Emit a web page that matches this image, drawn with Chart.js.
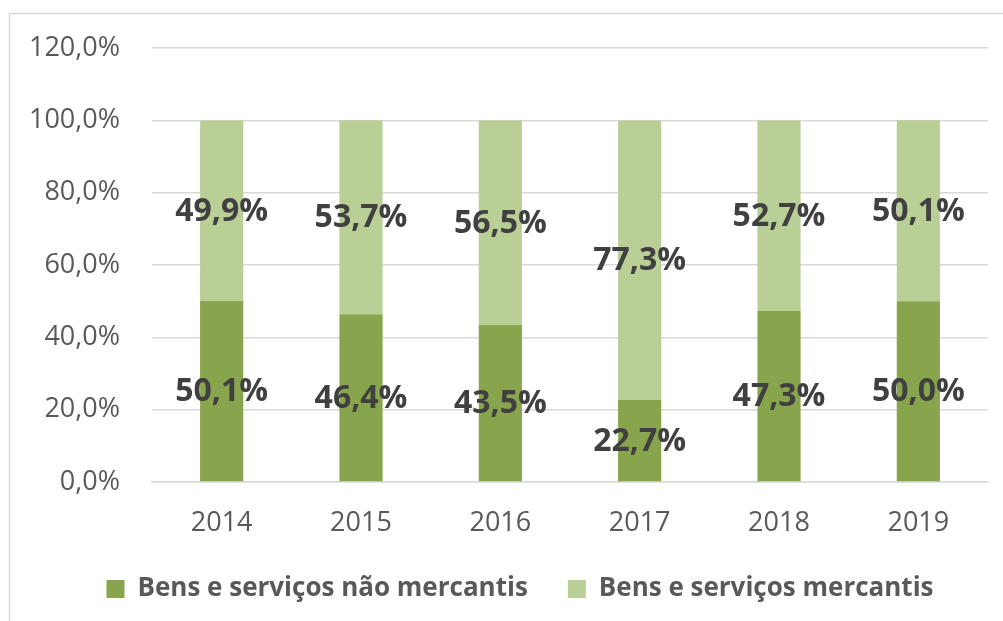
<!DOCTYPE html>
<html>
<head>
<meta charset="utf-8">
<script src="https://cdn.jsdelivr.net/npm/chart.js@4/dist/chart.umd.min.js"></script>
<style>
  html, body { margin: 0; padding: 0; background: #fff; }
  #wrap { width: 1003px; height: 621px; }
</style>
</head>
<body>
<div id="wrap"><canvas id="grafico"></canvas></div>
<script>
const anos = ['2014', '2015', '2016', '2017', '2018', '2019'];
const naoMercantis = [50.1, 46.4, 43.5, 22.7, 47.3, 50.0];
const mercantis = [49.9, 53.7, 56.5, 77.3, 52.7, 50.1];
const ticksY = [0, 20, 40, 60, 80, 100, 120];

const FONTE = '"Open Sans", sans-serif';
const formatar = (v) => v.toFixed(1).replace('.', ',') + '%';

// moldura cinza do gráfico (só topo e esquerda aparecem)
const moldura = {
  id: 'moldura',
  beforeDraw(chart) {
    const ctx = chart.ctx;
    ctx.save();
    ctx.strokeStyle = '#D9D9D9';
    ctx.lineWidth = 1.5;
    ctx.beginPath();
    ctx.moveTo(9.5, chart.height);
    ctx.lineTo(9.5, 13.5);
    ctx.lineTo(chart.width, 13.5);
    ctx.stroke();
    ctx.restore();
  },
  // legenda um pouco deslocada para a direita, como no original
  afterLayout(chart) {
    if (chart.legend) {
      chart.legend.left += 52;
    }
  }
};

// rótulos no centro de cada segmento
const rotulos = {
  id: 'rotulos',
  afterDatasetsDraw(chart) {
    const ctx = chart.ctx;
    ctx.save();
    ctx.font = `bold 32px ${FONTE}`;
    ctx.fillStyle = '#404040';
    ctx.textAlign = 'center';
    ctx.textBaseline = 'middle';
    chart.data.datasets.forEach((ds, i) => {
      const meta = chart.getDatasetMeta(i);
      meta.data.forEach((bar, j) => {
        const y = (bar.y + bar.base) / 2;
        ctx.fillText(formatar(ds.data[j]), bar.x, y + 1);
      });
    });
    ctx.restore();
  }
};

new Chart(document.getElementById('grafico'), {
  type: 'bar',
  data: {
    labels: anos,
    datasets: [
      {
        label: 'Bens e serviços não mercantis',
        data: naoMercantis,
        backgroundColor: '#88A54D'
      },
      {
        label: 'Bens e serviços mercantis',
        data: mercantis,
        backgroundColor: '#B9CF96'
      }
    ]
  },
  options: {
    responsive: true,
    maintainAspectRatio: false,
    animation: false,
    datasets: {
      bar: {
        barPercentage: 0.31,
        categoryPercentage: 1
      }
    },
    layout: {
      padding: { top: 47, right: 15, left: 0, bottom: 9 }
    },
    plugins: {
      tooltip: { enabled: false },
      legend: {
        position: 'bottom',
        labels: {
          color: '#595959',
          boxWidth: 18,
          boxHeight: 18,
          padding: 40,
          font: { family: FONTE, size: 26, weight: 'bold' }
        }
      }
    },
    scales: {
      x: {
        stacked: true,
        afterFit(scale) {
          scale.height = 54;
        },
        grid: { display: false },
        border: { color: '#D9D9D9', width: 1.5 },
        ticks: {
          color: '#595959',
          padding: 17,
          font: { family: FONTE, size: 27 }
        }
      },
      y: {
        stacked: true,
        min: 0,
        max: 120,
        afterFit(scale) {
          scale.width = 152;
        },
        afterBuildTicks(scale) {
          scale.ticks = ticksY.map(v => ({ value: v }));
        },
        grid: { color: '#D9D9D9', lineWidth: 1.5, drawTicks: false },
        border: { display: false },
        ticks: {
          color: '#595959',
          padding: 32,
          font: { family: FONTE, size: 27 },
          callback: (v) => formatar(v)
        }
      }
    }
  },
  plugins: [moldura, rotulos]
});
</script>
</body>
</html>
